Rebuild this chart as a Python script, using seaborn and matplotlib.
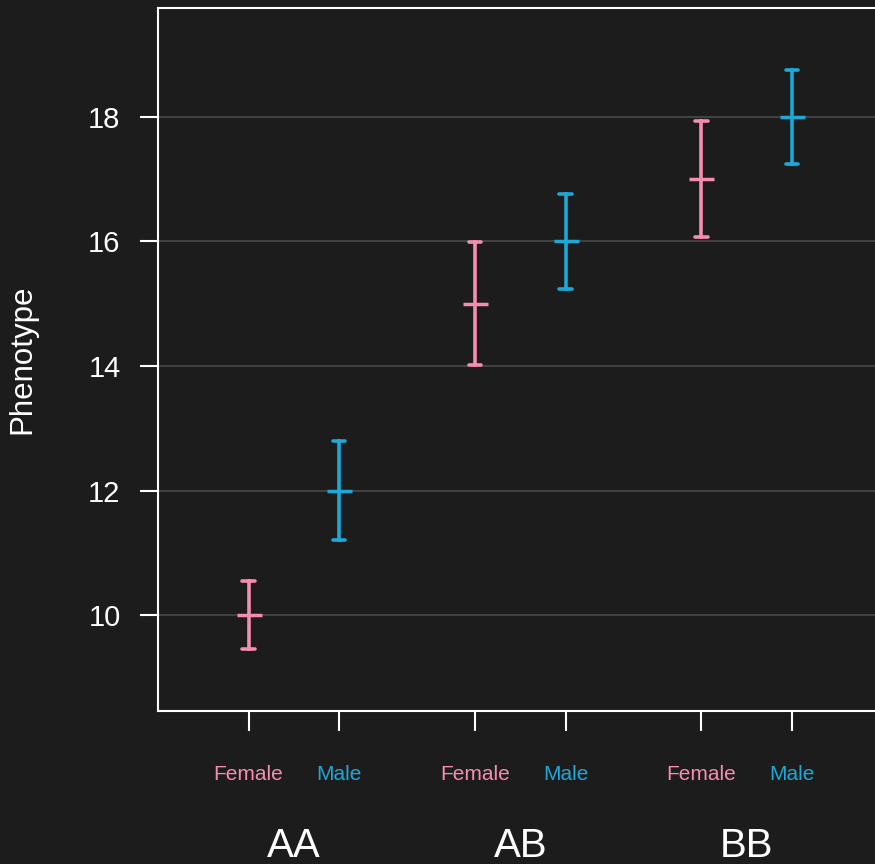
import matplotlib.pyplot as plt
import matplotlib.transforms as mtransforms
import pandas as pd
import seaborn as sns

# ── Data ──────────────────────────────────────────────────────────────────────
genotypes = ["AA", "AB", "BB"]
sexes = ["Female", "Male"]
mean_female = [10.0, 15.0, 17.0]
mean_male = [12.0, 16.0, 18.0]
halfwidth_female = [0.55, 0.99, 0.93]
halfwidth_male = [0.79, 0.77, 0.75]
y_ticks = [10, 12, 14, 16, 18]

sex_colors = {"Female": "#F78DAE", "Male": "#1DA8D8"}
BG = "#1c1c1c"
FG = "#ffffff"

# each cell as its lower/upper interval bound -> mean is the midpoint,
# the 100% percentile interval is the error bar
rows = []
for sex, means, halfs in [("Female", mean_female, halfwidth_female), ("Male", mean_male, halfwidth_male)]:
    for g, m, h in zip(genotypes, means, halfs):
        rows.append({"genotype": g, "sex": sex, "phenotype": m - h})
        rows.append({"genotype": g, "sex": sex, "phenotype": m + h})
df = pd.DataFrame(rows)

sns.set_theme(style="ticks")
plt.rcParams["font.family"] = ["Liberation Sans", "DejaVu Sans"]

fig = plt.figure(figsize=(8.75, 8.64), dpi=100, facecolor=BG)
ax = fig.add_axes([0.1806, 0.1771, 0.8280, 0.8137])
ax.set_facecolor(BG)

sns.pointplot(
    data=df,
    x="genotype",
    y="phenotype",
    hue="sex",
    order=genotypes,
    hue_order=sexes,
    palette=sex_colors,
    estimator="mean",
    errorbar=("pi", 100),
    dodge=0.4,
    capsize=0.055,
    marker="_",
    linestyle="none",
    markersize=18,
    markeredgewidth=2.5,
    err_kws={"linewidth": 2.6, "solid_capstyle": "round"},
    legend=False,
    ax=ax,
)

# ── Axes styling ──────────────────────────────────────────────────────────────
ax.set_xlim(-0.6, 2.6)
ax.set_ylim(8.46, 19.75)
ax.set_yticks(y_ticks)
ax.grid(axis="y", color="#414141", linewidth=1.5)
ax.grid(axis="x", visible=False)
ax.set_axisbelow(True)

for side in ["left", "bottom", "top", "right"]:
    ax.spines[side].set_visible(True)
    ax.spines[side].set_color(FG)
    ax.spines[side].set_linewidth(1.5)

xpos = [i + d for i in range(len(genotypes)) for d in (-0.2, 0.2)]
xlabels = sexes * len(genotypes)
ax.set_xticks(xpos)
ax.set_xticklabels(xlabels, fontsize=15)
for lbl, sex in zip(ax.get_xticklabels(), xlabels):
    lbl.set_color(sex_colors[sex])

ax.tick_params(axis="x", length=14.4, width=1.5, color=FG, pad=24.5)
ax.tick_params(axis="y", length=13, width=1.5, color=FG, labelcolor=FG, labelsize=21, pad=14)

ax.set_xlabel("")
ax.set_ylabel("Phenotype", color=FG, fontsize=22.5)
ax.yaxis.set_label_coords(-0.166, 0.5)

trans = mtransforms.blended_transform_factory(ax.transData, ax.transAxes)
for i, g in enumerate(genotypes):
    ax.text(i, -0.2077, g, transform=trans, ha="center", va="baseline", fontsize=29, color=FG)

fig.savefig("out.png", dpi=100, facecolor=BG)
